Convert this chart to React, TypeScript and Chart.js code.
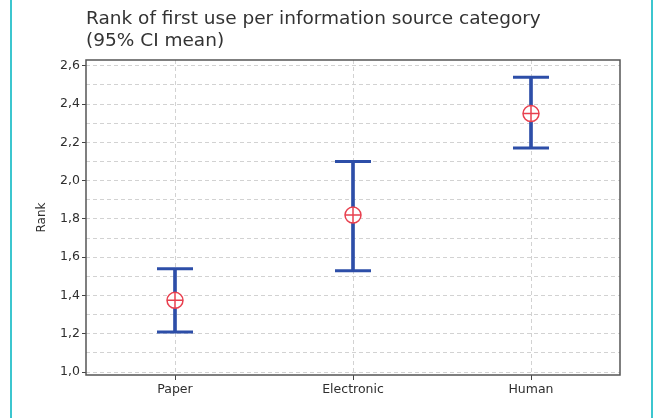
import { useEffect, useRef } from "react";
import { Chart, registerables } from "chart.js";

Chart.register(...registerables);

// Source categories and 95% confidence interval of the mean rank
const categories = ["Paper", "Electronic", "Human"];
const ciLower = [1.21, 1.53, 2.17];
const ciMean = [1.375, 1.82, 2.35];
const ciUpper = [1.54, 2.1, 2.54];

// Y gridlines every 0.1, labels on every second one
const rankTicks = [1.0, 1.1, 1.2, 1.3, 1.4, 1.5, 1.6, 1.7, 1.8, 1.9, 2.0, 2.1, 2.2, 2.3, 2.4, 2.5, 2.6];

const titleLines = ["Rank of first use per information source category", "(95% CI mean)"];

const BLUE = "#2d4ea8";
const RED = "#e8404f";
const FONT = "'DejaVu Sans', Verdana, sans-serif";

const plotFrame = {
  id: "plotFrame",
  beforeDatasetsDraw(chart: any) {
    const { ctx, chartArea: a } = chart;
    ctx.save();
    ctx.strokeStyle = "#555555";
    ctx.lineWidth = 1.5;
    ctx.strokeRect(a.left, a.top, a.right - a.left, a.bottom - a.top);
    ctx.restore();
  },
};

export default function App() {
  const canvasRef = useRef<HTMLCanvasElement | null>(null);

  useEffect(() => {
    if (!canvasRef.current) return;
    const chart = new Chart(canvasRef.current, {
      type: "bar",
      data: {
        labels: categories,
        datasets: [
          {
            type: "bar",
            data: categories.map((_, i) => [ciLower[i], ciUpper[i]]) as any,
            backgroundColor: BLUE,
            barThickness: 3,
            order: 5,
          },
          {
            type: "line",
            data: ciUpper,
            showLine: false,
            pointStyle: "line",
            pointRadius: 18,
            pointBorderWidth: 3,
            pointBorderColor: BLUE,
            borderColor: BLUE,
            order: 4,
          },
          {
            type: "line",
            data: ciLower,
            showLine: false,
            pointStyle: "line",
            pointRadius: 18,
            pointBorderWidth: 3,
            pointBorderColor: BLUE,
            borderColor: BLUE,
            order: 4,
          },
          {
            type: "line",
            data: ciMean,
            showLine: false,
            pointStyle: "circle",
            pointRadius: 8,
            pointBorderWidth: 1.5,
            pointBorderColor: RED,
            pointBackgroundColor: "#ffffff",
            order: 2,
          },
          {
            type: "line",
            data: ciMean,
            showLine: false,
            pointStyle: "cross",
            pointRadius: 8,
            pointBorderWidth: 1.5,
            pointBorderColor: RED,
            order: 1,
          },
        ] as any,
      },
      options: {
        responsive: false,
        animation: false,
        events: [],
        layout: { padding: { left: 0, right: 34, top: 0, bottom: 0 } },
        plugins: {
          legend: { display: false },
          tooltip: { enabled: false },
          title: {
            display: true,
            text: titleLines,
            align: "start",
            fullSize: false,
            color: "#333333",
            font: { family: FONT, size: 18.5, weight: "normal", lineHeight: 1.2 },
            padding: { top: 8, bottom: 7.6 },
          },
        },
        scales: {
          x: {
            type: "category",
            offset: true,
            afterFit(scale: any) {
              scale.height = 43;
            },
            grid: {
              offset: false,
              color: "#d2d2d2",
              lineWidth: 1,
              drawTicks: true,
              tickLength: 5,
              tickColor: "#444444",
              tickWidth: 1,
            },
            border: { display: false, dash: [4, 3] },
            ticks: {
              color: "#2e2e2e",
              padding: 2,
              font: { family: FONT, size: 12.5 },
            },
          },
          y: {
            type: "linear",
            min: 0.985,
            max: 2.63,
            afterFit(scale: any) {
              scale.width = 86;
            },
            afterBuildTicks(scale: any) {
              scale.ticks = rankTicks.map((v) => ({ value: v }));
            },
            grid: {
              color: "#d2d2d2",
              lineWidth: 1,
              drawTicks: true,
              tickLength: 4,
              tickWidth: 1,
              tickColor: (c: any) => (c.index % 2 === 0 ? "#444444" : "rgba(0,0,0,0)"),
            },
            border: { display: false, dash: [4, 3] },
            ticks: {
              color: "#2e2e2e",
              padding: 2,
              autoSkip: false,
              font: { family: FONT, size: 12.5 },
              callback: (value: any, index: number) =>
                index % 2 === 0 ? Number(value).toFixed(1).replace(".", ",") : "",
            },
            title: {
              display: true,
              text: "Rank",
              color: "#2e2e2e",
              font: { family: FONT, size: 12 },
              padding: { top: 35, bottom: 0 },
            },
          },
        },
      },
      plugins: [plotFrame],
    });
    return () => chart.destroy();
  }, []);

  return (
    <div style={{ position: "absolute", left: 0, top: 0, width: 654, height: 418, background: "#ffffff" }}>
      <div style={{ position: "absolute", left: 10, top: 0, width: 1.5, height: 418, background: "#3cc6cf" }} />
      <div style={{ position: "absolute", left: 651, top: 0, width: 1.5, height: 418, background: "#3cc6cf" }} />
      <canvas ref={canvasRef} width={654} height={418} style={{ position: "absolute", left: 0, top: 0 }} />
    </div>
  );
}
